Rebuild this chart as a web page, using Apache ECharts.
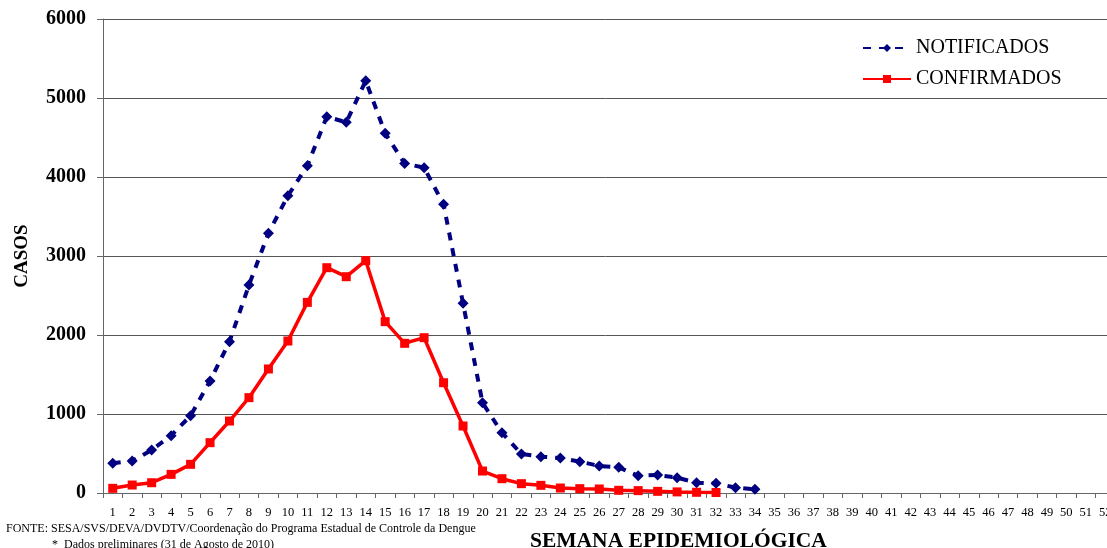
<!DOCTYPE html>
<html>
<head>
<meta charset="utf-8">
<script src="https://cdn.jsdelivr.net/npm/echarts@6/dist/echarts.min.js"></script>
<style>
  html, body { margin: 0; padding: 0; background: #fff; }
  #chart { width: 1107px; height: 548px; }
</style>
</head>
<body>
<div id="chart"></div>
<script>
// semanas epidemiológicas 1..52
const semanas = [];
for (let i = 1; i <= 52; i++) semanas.push(String(i));

const notificados = [376, 405, 544, 726, 979, 1418, 1916, 2633, 3287, 3763, 4143, 4763, 4692, 5219,
  4553, 4170, 4118, 3654, 2401, 1143, 763, 494, 460, 443, 397, 342, 325, 219, 228, 194, 131, 122, 68, 46];

const confirmados = [59, 101, 130, 236, 363, 637, 911, 1207, 1570, 1924, 2413, 2852, 2738, 2941,
  2169, 1895, 1966, 1396, 848, 278, 181, 118, 97, 63, 55, 51, 34, 30, 21, 14, 9, 6];

const yTicks = [0, 1000, 2000, 3000, 4000, 5000, 6000];

const serif = '"Liberation Serif", "DejaVu Serif", serif';

let chartDom = document.getElementById('chart');
let myChart = echarts.init(chartDom);
let option;

option = {
  animation: false,
  grid: {
    left: 103,
    top: 19,
    width: 1012,
    height: 474,
    outerBoundsMode: 'none',
  },
  legend: {
    orient: 'vertical',
    left: 857,
    top: 33,
    itemWidth: 48,
    itemHeight: 10,
    itemGap: 11,
    textStyle: { fontFamily: serif, fontSize: 20, color: '#000' },
    data: ['NOTIFICADOS', 'CONFIRMADOS'],
  },
  xAxis: {
    type: 'category',
    data: semanas,
    boundaryGap: true,
    axisLine: { lineStyle: { color: '#666', width: 1 } },
    axisTick: { show: true, length: 5, lineStyle: { color: '#666' } },
    axisLabel: { fontFamily: serif, fontSize: 12.5, color: '#000', interval: 0, margin: 13 },
  },
  yAxis: {
    type: 'value',
    min: yTicks[0],
    max: yTicks[yTicks.length - 1],
    interval: 1000,
    name: 'CASOS',
    nameLocation: 'middle',
    nameGap: 71,
    nameRotate: 90,
    nameTextStyle: { fontFamily: serif, fontSize: 19, fontWeight: 'bold', color: '#000' },
    axisLine: { show: true, lineStyle: { color: '#666', width: 1 } },
    axisTick: { show: true, length: 6, lineStyle: { color: '#666' } },
    axisLabel: {
      fontFamily: serif,
      fontSize: 20,
      fontWeight: 'bold',
      color: '#000',
      margin: 17,
      formatter: (v) => String(v),
    },
    splitLine: { show: true, lineStyle: { color: '#555', width: 1 } },
  },
  series: [
    {
      name: 'NOTIFICADOS',
      type: 'line',
      data: notificados,
      showAllSymbol: true,
      symbol: 'diamond',
      symbolSize: 11,
      itemStyle: { color: '#000080' },
      lineStyle: { color: '#000080', width: 4, type: [8, 8] },
      z: 2,
    },
    {
      name: 'CONFIRMADOS',
      type: 'line',
      data: confirmados,
      showAllSymbol: true,
      symbol: 'rect',
      symbolSize: 9,
      itemStyle: { color: '#ff0000' },
      lineStyle: { color: '#ff0000', width: 3.5 },
      z: 3,
    },
  ],
  graphic: [
    {
      type: 'text',
      left: 530,
      top: 530,
      style: { text: 'SEMANA EPIDEMIOLÓGICA', font: 'bold 21.5px ' + serif, fill: '#000' },
    },
    {
      type: 'text',
      left: 6,
      top: 523,
      style: {
        text: 'FONTE: SESA/SVS/DEVA/DVDTV/Coordenação do Programa Estadual de Controle da Dengue',
        font: '12px ' + serif,
        fill: '#000',
      },
    },
    {
      type: 'text',
      left: 52,
      top: 539,
      style: { text: '*  Dados preliminares (31 de Agosto de 2010)', font: '12px ' + serif, fill: '#000' },
    },
  ],
};

option && myChart.setOption(option);
</script>
</body>
</html>
